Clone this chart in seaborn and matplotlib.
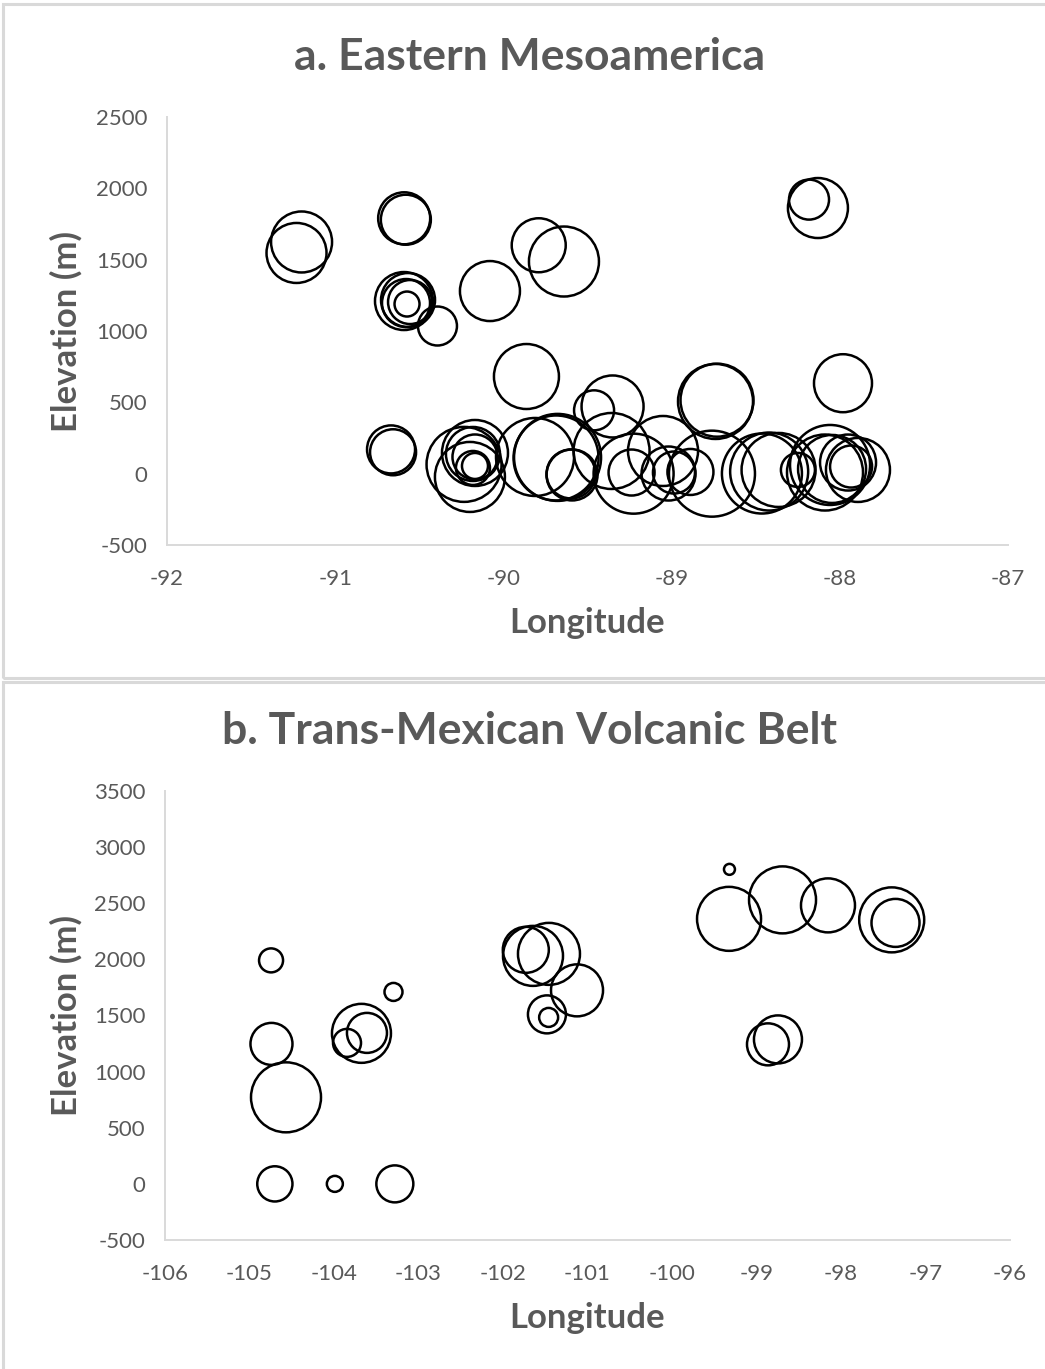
import numpy as np
import pandas as pd
import matplotlib
matplotlib.use("Agg")
import matplotlib.pyplot as plt
from matplotlib.patches import Rectangle
import seaborn as sns

# ---- a. Eastern Mesoamerica ----
east_lon = [-91.20, -91.23, -90.59, -90.58, -90.591, -90.567, -90.579, -90.555, -90.573,
            -90.392, -90.08, -89.79, -89.64, -88.183, -88.13, -89.863, -88.739, -88.73,
            -87.981,
            -90.668, -90.656, -90.234, -90.199, -90.169, -90.181, -90.169, -90.181, -90.169,
            -89.812, -89.678, -89.687, -89.592, -89.598, -89.461, -89.351, -89.357, -89.226,
            -89.238, -89.051, -89.018, -88.986, -88.888, -88.76, -88.463, -88.42, -88.364,
            -88.249, -88.058, -88.088, -88.046, -87.951, -87.892, -87.933]
east_elev = [1624, 1547, 1790, 1780, 1210, 1217, 1196, 1203, 1189,
             1035, 1280, 1601, 1487, 1921, 1862, 681, 506, 515,
             634,
             170, 150, 65, -23, 145, 138, 117, 40, 54,
             117, 114, 110, -9, -2, 444, 471, 159, 0,
             8, 159, 1, 8, 12, 0, 1, 15, 26,
             26, 61, 8, 33, 78, 26, 50]
east_bubble = [9.30, 9.00, 6.76, 6.25, 8.41, 7.29, 5.76, 4.84, 1.56,
               3.80, 9.00, 7.29, 12.25, 4.00, 9.00, 10.56, 14.06, 13.32,
               8.41,
               5.76, 5.29, 14.06, 12.25, 10.89, 7.29, 5.06, 2.89, 1.69,
               15.21, 18.92, 18.06, 6.50, 6.00, 4.00, 9.61, 14.44, 16.00,
               5.29, 12.25, 7.29, 4.41, 5.29, 18.49, 16.00, 15.21, 13.69,
               2.89, 16.00, 14.44, 11.56, 7.84, 10.24, 4.41]

# ---- b. Trans-Mexican Volcanic Belt ----
tmvb_lon = [-104.745, -103.296, -104.74, -104.568, -103.675, -103.61, -103.846,
            -104.70, -103.99, -103.28,
            -101.73, -101.645, -101.456, -101.124, -101.48, -101.46,
            -99.32, -99.325, -98.692, -98.154, -97.40, -97.355, -98.746, -98.864]
tmvb_elev = [1991, 1710, 1247, 771, 1341, 1345, 1256,
             0, 0, 0,
             2085, 2031, 2049, 1724, 1510, 1483,
             2802, 2361, 2530, 2481, 2352, 2325, 1287, 1243]
tmvb_bubble = [1.44, 0.81, 4.41, 12.25, 8.70, 4.00, 1.96,
               3.10, 0.64, 3.42,
               5.29, 9.00, 9.61, 6.76, 3.61, 0.90,
               0.30, 10.24, 11.22, 7.29, 10.56, 5.76, 5.76, 4.41]

east_xticks = [-92, -91, -90, -89, -88, -87]
east_yticks = [-500, 0, 500, 1000, 1500, 2000, 2500]
tmvb_xticks = list(range(-106, -95))
tmvb_yticks = [-500, 0, 500, 1000, 1500, 2000, 2500, 3000, 3500]

east = pd.DataFrame({"Longitude": east_lon, "Elevation": east_elev, "bubble": east_bubble})
tmvb = pd.DataFrame({"Longitude": tmvb_lon, "Elevation": tmvb_elev, "bubble": tmvb_bubble})

sns.set_theme(style="white")
plt.rcParams["font.family"] = ["Lato", "DejaVu Sans"]

W, H, DPI = 1045, 1369, 100
fig = plt.figure(figsize=(W / DPI, H / DPI), dpi=DPI)
fig.patch.set_facecolor("white")

GRAY = "#595959"
AXIS = "#D9D9D9"
AREA_PER_UNIT = 207.36  # marker area (pt^2) per bubble unit
VMAX = 20.0


def px_rect(left, top, right, bottom):
    return [left / W, 1 - bottom / H, (right - left) / W, (bottom - top) / H]


def panel(rect, df, title, xticks, yticks, title_y, xlabel_y):
    ax = fig.add_axes(px_rect(*rect))
    sns.scatterplot(data=df, x="Longitude", y="Elevation", size="bubble",
                    sizes=(0, VMAX * AREA_PER_UNIT), size_norm=(0, VMAX),
                    facecolor="none", edgecolor="black", linewidth=1.8,
                    legend=False, ax=ax, clip_on=False)
    ax.set_xlim(xticks[0], xticks[-1])
    ax.set_ylim(yticks[0], yticks[-1])
    ax.set_xticks(xticks)
    ax.set_yticks(yticks)
    ax.set_xticklabels([str(t) for t in xticks])
    ax.set_yticklabels([str(t) for t in yticks])
    for side in ("top", "right"):
        ax.spines[side].set_visible(False)
    for side in ("left", "bottom"):
        ax.spines[side].set_color(AXIS)
        ax.spines[side].set_linewidth(1.4)
    ax.tick_params(axis="both", length=0, labelsize=16, labelcolor=GRAY)
    ax.tick_params(axis="x", pad=17)
    ax.tick_params(axis="y", pad=14)
    ax.set_xlabel("Longitude", fontsize=25, fontweight="bold", color=GRAY)
    ax.set_ylabel("Elevation (m)", fontsize=25, fontweight="bold", color=GRAY)
    ax.xaxis.set_label_coords(0.5 * (rect[0] + rect[2]) / W, 1 - xlabel_y / H,
                              transform=fig.transFigure)
    ax.yaxis.set_label_coords(66 / W, 1 - 0.5 * (rect[1] + rect[3]) / H,
                              transform=fig.transFigure)
    ax.xaxis.label.set_va("center")
    ax.yaxis.label.set_va("center")
    ax.set_facecolor("white")
    fig.text(530 / W, 1 - title_y / H, title,
             ha="center", va="center", fontsize=32, fontweight="bold", color=GRAY)
    return ax


panel((167, 117, 1008, 545), east, "a. Eastern Mesoamerica",
      east_xticks, east_yticks, 57, 623)
panel((165, 791, 1010, 1240), tmvb, "b. Trans-Mexican Volcanic Belt",
      tmvb_xticks, tmvb_yticks, 731, 1318)

# panel frames
for top, bottom in ((4, 678), (682, 1372)):
    fig.patches.append(Rectangle((3 / W, 1 - bottom / H), (W + 10) / W, (bottom - top) / H,
                                 transform=fig.transFigure, fill=False,
                                 edgecolor=AXIS, linewidth=2.2, zorder=0))

fig.savefig("out.png", dpi=DPI)
